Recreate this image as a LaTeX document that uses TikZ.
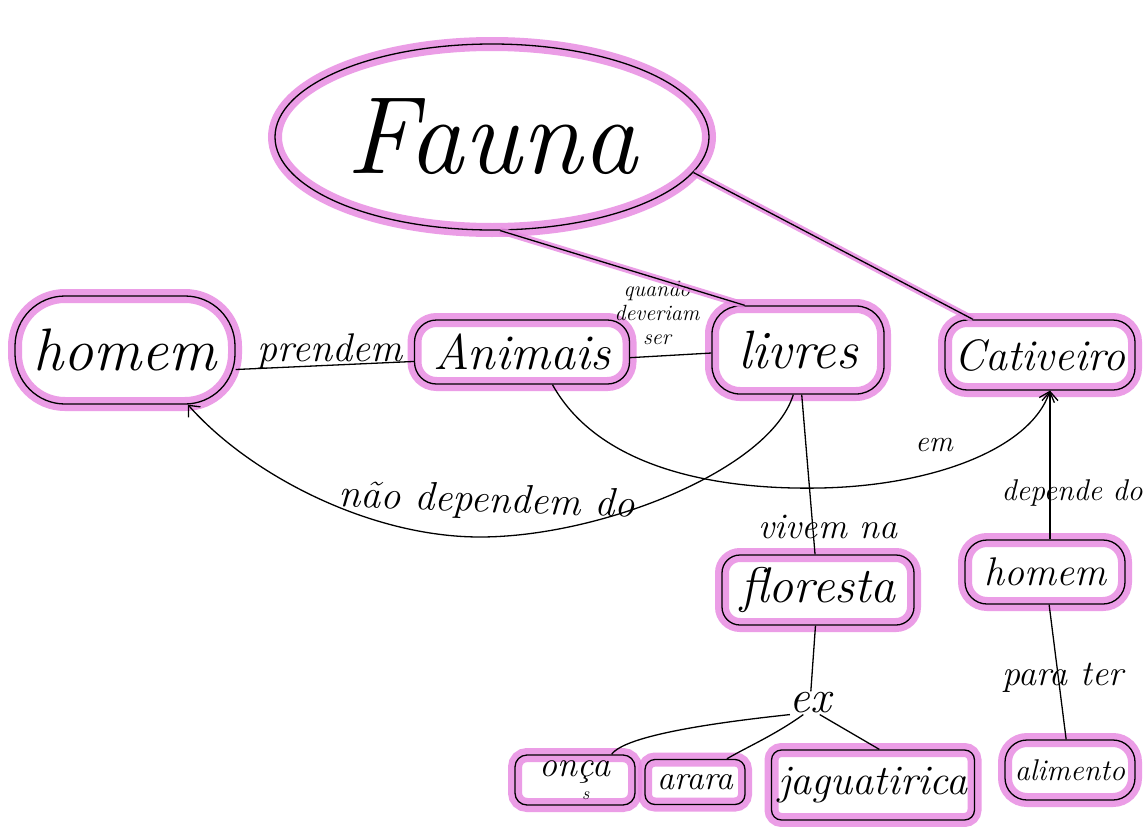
\documentclass[tikz,border=0pt]{standalone}
\usetikzlibrary{arrows.meta,shapes.geometric}
\definecolor{halo}{RGB}{232,140,226}
\newcommand\fsz[1]{\fontsize{#1}{#1}\selectfont\itshape}
\tikzset{
  concept/.style={draw=black, line width=1.3pt, inner sep=0pt,
    preaction={draw=halo, line width=14pt, draw opacity=0.85}},
  lbl/.style={inner sep=1pt},
  link/.style={draw=black, line width=1.3pt},
  haloed/.style={preaction={draw=halo, line width=7pt, draw opacity=0.85}},
  arr/.style={-{Straight Barb[length=9pt,width=16pt,line width=1.3pt]}}
}
\begin{document}
\begin{tikzpicture}[x=1pt,y=-1pt]
\useasboundingbox[fill=white] (0,0) rectangle (1143,827);

% concepts
\node[concept, ellipse, minimum width=434pt, minimum height=186pt, font=\fsz{110}] (fauna) at (492,137) {Fauna};
\node[concept, rounded corners=50pt, minimum width=220pt, minimum height=108pt, font=\fsz{60}] (homemL) at (125,350) {homem};
\node[concept, rounded corners=22pt, minimum width=215pt, minimum height=64pt, font=\fsz{50}] (animais) at (522,352) {Animais};
\node[concept, rounded corners=28pt, minimum width=172pt, minimum height=88pt, font=\fsz{54}] (livres) at (798,350) {livres};
\node[concept, rounded corners=22pt, minimum width=190pt, minimum height=70pt, font=\fsz{44}] (cativeiro) at (1040,355) {Cativeiro};
\node[concept, rounded corners=18pt, minimum width=192pt, minimum height=70pt, font=\fsz{50}] (floresta) at (818,590) {floresta};
\node[concept, rounded corners=22pt, minimum width=160pt, minimum height=64pt, font=\fsz{40}] (homemR) at (1045,572) {homem};
\node[concept, rounded corners=22pt, minimum width=130pt, minimum height=60pt, font=\fsz{30}] (alimento) at (1070,770) {alimento};
\node[concept, rounded corners=12pt, minimum width=120pt, minimum height=50pt, font=\fsz{36}] (onca) at (575,780) {on\rlap{\raisebox{-0.62em}{\hspace{0.12em}\fsz{18}s}}ça};
\node[concept, rounded corners=10pt, minimum width=100pt, minimum height=45pt, font=\fsz{34}] (arara) at (695,782) {arara};
\node[concept, rounded corners=10pt, minimum width=203pt, minimum height=70pt, font=\fsz{42}] (jaguatirica) at (873,785) {jaguatirica};
\node[lbl, font=\fsz{46}] (ex) at (810,703) {ex};

% linking words
\node[lbl, anchor=base, font=\fsz{40}] (lprendem) at (330,361) {prendem};
\node[lbl, align=center, font=\fontsize{22}{24}\selectfont\itshape] (lquando) at (657,313) {quando\\deveriam\\ser};
\node[lbl, rotate=-2, font=\fsz{40}] (lnao) at (487,502) {não dependem do};
\node[lbl, font=\fsz{30}] (lem) at (934,445) {em};
\node[lbl, font=\fsz{36}] (lvivem) at (828,527) {vivem na};
\node[lbl, font=\fsz{30}] (ldepende) at (1072,493) {depende do};
\node[lbl, font=\fsz{36}] (lpara) at (1063,678) {para ter};

% connectors
\coordinate (catin) at ([xshift=10pt]cativeiro.south);
\draw[link, haloed] (fauna.-85) -- (livres.140);
\draw[link, haloed] (fauna.-10) -- (cativeiro.152);
\draw[link] (homemL.-10) -- (animais.-175);
\draw[link] (animais.-3) -- (livres.182);
\draw[link, arr] (livres.-96) .. controls (770,470) and (600,537) .. (480,537)
  .. controls (370,537) and (250,475) .. (homemL.-41);
\draw[link, arr] (animais.-47) .. controls (600,470) and (720,490) .. (820,488)
  .. controls (930,486) and (1030,450) .. (catin);
\draw[link] (livres) -- (floresta);
\draw[link, arr] (homemR.north -| catin) -- (catin);
\draw[link] (homemR) -- (alimento);
\draw[link] (floresta) -- (ex);
\draw[link] (ex.-150) .. controls (720,722) and (625,735) .. (onca.35);
\draw[link] (ex.-120) .. controls (775,735) and (745,748) .. (arara.36);
\draw[link] (ex.-50) -- (jaguatirica.80);
\end{tikzpicture}
\end{document}
